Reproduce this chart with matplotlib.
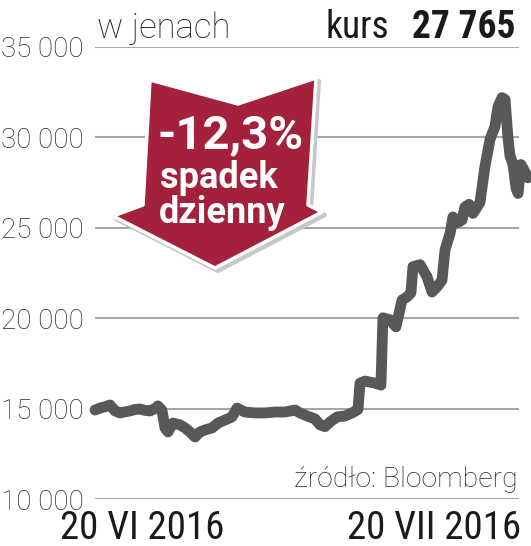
import matplotlib
matplotlib.use("Agg")
import matplotlib.pyplot as plt
from matplotlib.patches import Polygon

# ---- data ----
dni = [0.0, 0.35, 0.69, 1.04, 1.39, 1.73, 2.08, 2.42, 2.77, 3.12, 3.46, 3.81, 4.16, 4.36,
       4.64, 4.85, 5.06, 5.40, 5.89, 6.24, 6.58, 6.93, 7.27, 7.62, 8.11, 8.52, 9.01, 9.49,
       9.84, 10.39, 11.09, 11.78, 12.47, 13.16, 13.86, 14.20, 14.69, 15.24, 15.59, 15.94,
       16.28, 16.77, 17.32, 17.81, 18.15, 18.22, 18.36, 18.71, 19.40, 19.81, 19.95, 20.44,
       20.85, 21.27, 21.62, 21.89, 22.03, 22.52, 23.00, 23.35, 23.69, 24.04, 24.25, 24.60,
       24.80, 25.08, 25.43, 25.63, 25.91, 26.19, 26.67, 27.02, 27.37, 27.71, 27.92, 28.20,
       28.41, 28.61, 28.75, 28.96, 29.17, 29.31, 29.51, 29.72, 30.0]
kurs = [14920, 15030, 15100, 15200, 14870, 14760, 14820, 14870, 14950, 14980, 14900, 14870,
        15000, 15150, 14900, 13930, 13710, 14200, 14100, 13930, 13710, 13430, 13710, 13820,
        13930, 14200, 14370, 14540, 15030, 14810, 14760, 14760, 14810, 14810, 14920, 14760,
        14590, 14430, 14100, 14000, 14260, 14540, 14590, 14760, 14920, 14950, 16410, 16520,
        16410, 16300, 20020, 19910, 19520, 21000, 21180, 21400, 22850, 22960, 22300, 21450,
        21730, 22100, 23770, 24700, 25600, 25270, 25430, 26150, 26300, 25800, 26400, 28400,
        29900, 30600, 31700, 32200, 32100, 30000, 29000, 28500, 27200, 26900, 28500, 28200,
        27765]
y_ticks = [10000, 15000, 20000, 25000, 30000, 35000]
y_labels = ["10 000", "15 000", "20 000", "25 000", "30 000", "35 000"]
x_labels = ["20 VI 2016", "20 VII 2016"]
unit_label = "w jenach"
kurs_label = "kurs"
kurs_value = "27 765"
source = "źródło: Bloomberg"
badge = ["-12,3%", "spadek", "dzienny"]

W, H = 531, 546
fig = plt.figure(figsize=(W / 100, H / 100), dpi=100)

cond = ["Roboto Condensed", "DejaVu Sans"]
rob = ["Roboto", "DejaVu Sans"]

def fx(px):
    return px / W

def fy(py):
    return 1 - py / H

ax = fig.add_axes([fx(95), fy(499), fx(528) - fx(95), (499 - 47) / H])
ax.set_xlim(0, 30)
ax.set_ylim(10000, 35000)
for s in ax.spines.values():
    s.set_visible(False)
ax.set_xticks([])
for t in y_ticks:
    ax.axhline(t, xmin=0, xmax=0.977, color="#a6a6a6", lw=1.5, zorder=1)
ax.set_yticks(y_ticks, y_labels)
ax.tick_params(axis="y", length=0, pad=8, labelsize=20, labelcolor="#2a2a2a")
for lab in ax.get_yticklabels():
    lab.set_family(rob)
    lab.set_fontweight("light")

ax.plot(dni, kurs, color="#585858", lw=7.8, solid_capstyle="round",
        solid_joinstyle="round", clip_on=False, zorder=3)

# header texts
fig.text(fx(97), fy(38), unit_label, family=rob, size=25, color="#222222",
         ha="left", va="baseline", fontweight="light")
fig.text(fx(389), fy(38), kurs_label, family=cond, size=27, color="#1a1a1a",
         ha="right", va="baseline")
fig.text(fx(516), fy(38), kurs_value, family=cond, size=27, color="#1a1a1a",
         ha="right", va="baseline", fontweight="bold")

# source
fig.text(fx(518), fy(487), source, family=rob, size=20.5, color="#2a2a2a",
         ha="right", va="baseline", fontweight="light")

# x labels
fig.text(fx(142), fy(539), x_labels[0], family=cond, size=28, color="#1a1a1a",
         ha="center", va="baseline")
fig.text(fx(521), fy(539), x_labels[1], family=cond, size=28, color="#1a1a1a",
         ha="right", va="baseline")

# arrow badge
arrow_px = [(150, 80), (238, 104), (316, 78), (308, 205), (322, 212),
            (215, 268), (113, 216), (143, 205)]
shadow = Polygon([(fx(x + 3), fy(y + 3)) for x, y in arrow_px], closed=True,
                 transform=fig.transFigure, facecolor="#c8c8c8", edgecolor="#c8c8c8",
                 lw=3, joinstyle="round", zorder=5)
fig.add_artist(shadow)
poly = Polygon([(fx(x), fy(y)) for x, y in arrow_px], closed=True,
               transform=fig.transFigure, facecolor="#a3213a", edgecolor="white",
               lw=2.5, joinstyle="round", zorder=6)
fig.add_artist(poly)
fig.text(fx(231), fy(148), badge[0], family=rob, size=34, color="white",
         ha="center", va="baseline", fontweight="bold", zorder=7)
fig.text(fx(219), fy(188), badge[1], family=rob, size=26, color="white",
         ha="center", va="baseline", fontweight="bold", zorder=7)
fig.text(fx(222), fy(223), badge[2], family=rob, size=26, color="white",
         ha="center", va="baseline", fontweight="bold", zorder=7)

fig.savefig("out.png", dpi=100)
